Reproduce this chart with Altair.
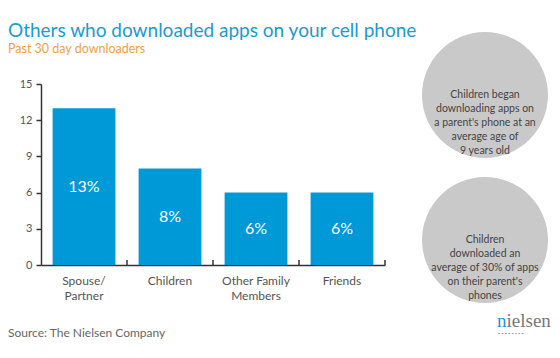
import altair as alt
import pandas as pd

categories = ["Spouse/Partner", "Children", "Other Family Members", "Friends"]
values = [13, 8, 6, 6]
bar_labels = ["13%", "8%", "6%", "6%"]
y_ticks = [0, 3, 6, 9, 12, 15]

title_text = "Others who downloaded apps on your cell phone"
subtitle_text = "Past 30 day downloaders"
source_text = "Source: The Nielsen Company"
circle_texts = [
    "Children began\ndownloading apps on\na parent's phone at an\naverage age of\n9 years old",
    "Children\ndownloaded an\naverage of 30% of apps\non their parent's\nphones",
]

FONT = "Lato"
W, H = 344, 181

df = pd.DataFrame({"cat": categories, "val": values, "lab": bar_labels})
df["half"] = df["val"] / 2

yaxis = alt.Axis(title=None, values=y_ticks, grid=False, domainColor="#333",
                 domainWidth=1.5, tickColor="#333", tickSize=5, tickWidth=1.5,
                 labelColor="#555", labelFontSize=11, labelFont=FONT,
                 labelPadding=4, labelOverlap=False)
yscale = alt.Scale(domain=[0, 15], nice=False)
xaxis = alt.Axis(title=None, labelAngle=0, ticks=False, domainColor="#333",
                 domainWidth=1.5, labelColor="#555", labelFontSize=12,
                 labelFont=FONT, labelPadding=10, labelLineHeight=15,
                 labelBaseline="top",
                 labelExpr="datum.label == 'Spouse/Partner' ? ['Spouse/', 'Partner'] : datum.label == 'Other Family Members' ? ['Other Family', 'Members'] : datum.label")
xscale = alt.Scale(paddingInner=0, paddingOuter=0)

base = alt.Chart(df)

bars = base.mark_bar(color="#0099d8", width=alt.RelativeBandSize(0.73)).encode(
    x=alt.X("cat:N", sort=categories, scale=xscale, axis=xaxis),
    y=alt.Y("val:Q", scale=yscale, axis=yaxis),
)

labels = base.mark_text(color="white", fontSize=16, font=FONT).encode(
    x=alt.X("cat:N", sort=categories, scale=xscale, axis=xaxis),
    y=alt.Y("half:Q", scale=yscale, axis=yaxis),
    text="lab:N",
)

ticks = base.mark_rule(color="#333", strokeWidth=1.5).encode(
    x=alt.X("cat:N", sort=categories, bandPosition=1, scale=xscale, axis=xaxis),
    y=alt.value(H - 5),
    y2=alt.value(H),
)

circ_df = pd.DataFrame({"txt": circle_texts, "cy": [11, 156]})
circles = alt.Chart(circ_df).mark_point(filled=True, shape="circle", color="#c9c9c9",
                                        opacity=1, size=126 * 126).encode(
    x=alt.value(444), y=alt.Y("cy:Q", scale=None))
circ_text = alt.Chart(circ_df).mark_text(fontSize=10.5, font=FONT, color="#444",
                                         lineBreak="\n", lineHeight=14,
                                         baseline="middle").encode(
    x=alt.value(444), y=alt.Y("cy:Q", scale=None), text="txt:N")

def txt(s, x, y, **kw):
    return alt.Chart(pd.DataFrame({"t": [s]})).mark_text(**kw).encode(
        x=alt.value(x), y=alt.value(y), text="t:N")

title = txt(title_text, -33, -47, align="left", baseline="alphabetic",
            fontSize=19, font=FONT, color="#1a9ad6")
subtitle = txt(subtitle_text, -33, -31, align="left", baseline="alphabetic",
               fontSize=12.5, font=FONT, color="#f5a04a")
source = txt(source_text, -33, 249, align="left", baseline="middle",
             fontSize=12, font=FONT, color="#666")
logo_n = txt("n", 456, 243, align="left", baseline="alphabetic",
             fontSize=19, font="Liberation Serif", color="#1a9ad6")
logo = txt("ielsen", 465.5, 243, align="left", baseline="alphabetic",
           fontSize=19, font="Liberation Serif", color="#777")
logo_dots = txt("• • • • • • • •", 457, 250, align="left", baseline="middle",
                fontSize=4, font=FONT, color="#999")

chart = alt.layer(bars, labels, ticks, circles, circ_text, title, subtitle, source,
                  logo, logo_n, logo_dots).properties(
    width=W, height=H,
    autosize=alt.AutoSizeParams(type="none"),
    padding={"left": 33, "top": 76, "right": 544 - 33 - W, "bottom": 342 - 76 - H},
    background="white",
).configure_view(strokeWidth=0)

chart.save("out.html", embed_options={"renderer": "svg", "actions": False})
